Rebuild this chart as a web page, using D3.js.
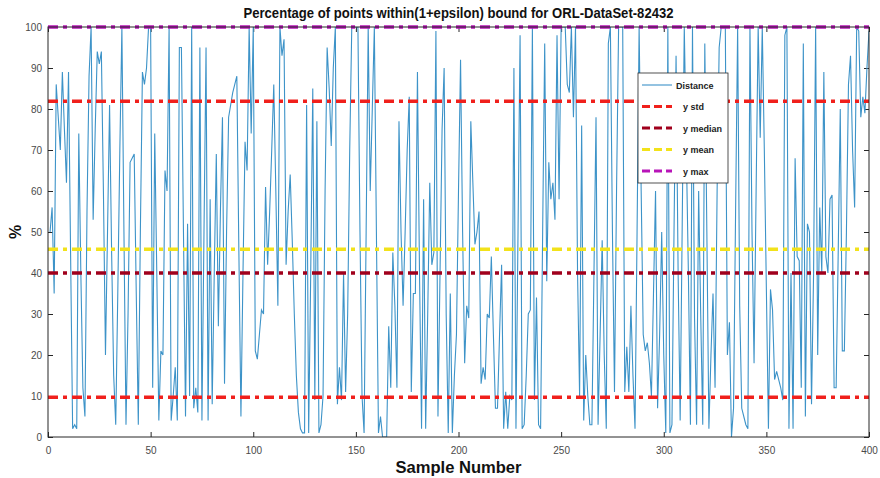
<!DOCTYPE html>
<html>
<head>
<meta charset="utf-8">
<script src="https://cdn.jsdelivr.net/npm/d3@7/dist/d3.min.js"></script>
<style>
  body { margin: 0; background: #ffffff; }
  svg { display: block; font-family: "Liberation Sans", Arial, sans-serif; }
</style>
</head>
<body>
<div id="chart"></div>
<script>
// Distance series, samples 1..400
const distance = [
  50,56,35,86,78,70,89,75,62,89, 45,2,3,2,74,40,12,5,55,88,
  100,53,75,94,91,94,60,20,50,81, 45,15,3,35,70,100,50,3,30,67,
  68,69,35,3,50,89,86,90,100,100, 12,74,40,4,21,20,65,60,100,4,
  10,17,4,95,95,50,5,52,10,100, 7,12,6,95,4,50,95,4,58,8,
  40,69,27,55,78,13,50,78,81,84, 86,88,45,5,40,72,65,100,74,100,
  21,19,25,31,30,61,42,55,70,86, 60,32,100,93,97,42,55,64,48,30,
  15,6,2,1,1,81,1,40,85,9, 77,1,3,10,60,95,85,71,90,100,
  8,17,9,40,11,30,70,100,100,100, 100,50,10,1,50,100,60,80,100,50,
  1,5,0,0,0,27,12,45,32,12, 77,50,32,50,70,83,11,35,35,89,
  40,2,58,2,30,62,42,45,99,5, 40,75,90,30,1,35,1,15,25,60,
  92,50,18,32,29,77,62,47,50,55, 13,17,14,30,29,44,25,7,7,25,
  42,2,11,2,10,9,90,2,50,98, 2,3,15,30,31,100,9,34,3,2,
  50,96,38,67,58,62,53,98,58,100, 100,100,86,84,100,78,100,40,10,76,
  4,20,10,3,3,40,78,3,25,48, 20,2,96,100,50,11,60,100,100,100,
  11,22,11,32,15,2,50,100,60,25, 21,23,18,10,35,60,7,25,50,20,
  1,100,1,3,50,93,40,4,52,100, 70,40,3,100,29,3,60,30,3,96,
  50,2,20,35,12,60,95,100,100,100, 20,28,0,7,55,100,32,7,5,3,
  2,100,50,18,60,100,73,100,70,36, 2,36,31,14,16,14,12,9,98,100,
  2,40,2,68,44,43,12,96,5,52, 50,8,40,100,20,56,40,89,44,40,
  58,59,12,12,45,80,21,21,50,86, 93,70,56,100,99,78,83,79,90,99
];

// reference lines
const refNames  = ["y std", "y std", "y median", "y mean", "y max"];
const refValues = [81.9, 9.7, 40, 45.8, 100];
const refColors = ["#f0201c", "#f0201c", "#a0001c", "#f2e21a", "#b814b8"];

const xTicks = [0, 50, 100, 150, 200, 250, 300, 350, 400];
const yTicks = [0, 10, 20, 30, 40, 50, 60, 70, 80, 90, 100];

const legendLabels = ["Distance", "y std", "y median", "y mean", "y max"];
const legendColors = ["#3d93c8", "#f0201c", "#a0001c", "#f2e21a", "#b814b8"];

const width = 880, height = 478;
const margin = { top: 27, right: 11, bottom: 41, left: 48 };
const innerWidth = width - margin.left - margin.right;
const innerHeight = height - margin.top - margin.bottom;

const svg = d3.select("#chart").append("svg").attr("width", width).attr("height", height);
const chart = svg.append("g").attr("transform", `translate(${margin.left},${margin.top})`);

const x = d3.scaleLinear().domain([0, 400]).range([0, innerWidth]);
const y = d3.scaleLinear().domain([0, 100]).range([innerHeight, 0]);

svg.append("defs").append("clipPath").attr("id", "plot-clip")
  .append("rect").attr("width", innerWidth).attr("height", innerHeight);

// axes, MATLAB style: ticks inward on all four sides
const axisColor = "#262626";
function styleAxis(g, hideText) {
  g.select(".domain").remove();
  g.selectAll("line").attr("stroke", axisColor);
  g.selectAll("text").style("font-size", "10px").style("fill", "#4a4a4a");
  if (hideText) g.selectAll("text").remove();
}
chart.append("g").attr("transform", `translate(0,${innerHeight})`)
  .call(d3.axisBottom(x).tickValues(xTicks).tickSize(-5).tickPadding(10).tickFormat(d3.format("d")))
  .call(g => styleAxis(g, false));
chart.append("g")
  .call(d3.axisTop(x).tickValues(xTicks).tickSize(-5))
  .call(g => styleAxis(g, true));
chart.append("g")
  .call(d3.axisLeft(y).tickValues(yTicks).tickSize(-5).tickPadding(6))
  .call(g => styleAxis(g, false));
chart.append("g").attr("transform", `translate(${innerWidth},0)`)
  .call(d3.axisRight(y).tickValues(yTicks).tickSize(-5))
  .call(g => styleAxis(g, true));

// distance line
const line = d3.line().x((d, i) => x(i + 1)).y(d => y(d));
chart.append("path").datum(distance)
  .attr("clip-path", "url(#plot-clip)")
  .attr("fill", "none").attr("stroke", "#3d93c8").attr("stroke-width", 1.1)
  .attr("d", line);

// reference lines
chart.selectAll(".ref").data(refValues).enter().append("line")
  .attr("x1", x(0)).attr("x2", x(400))
  .attr("y1", d => y(d)).attr("y2", d => y(d))
  .attr("stroke", (d, i) => refColors[i]).attr("stroke-width", 3.5)
  .attr("stroke-dasharray", "10,5,4,5");

// box
chart.append("rect").attr("width", innerWidth).attr("height", innerHeight)
  .attr("fill", "none").attr("stroke", axisColor).attr("stroke-width", 1);

// legend
const legend = svg.append("g").attr("transform", "translate(638,73)");
legend.append("rect").attr("width", 90).attr("height", 110)
  .attr("fill", "#ffffff").attr("stroke", axisColor).attr("stroke-width", 0.8);
legendLabels.forEach((label, i) => {
  const row = legend.append("g").attr("transform", `translate(0,${12 + i * 21.5})`);
  row.append("line").attr("x1", 4).attr("x2", 34).attr("y1", 0).attr("y2", 0)
    .attr("stroke", legendColors[i])
    .attr("stroke-width", i === 0 ? 1.1 : 3)
    .attr("stroke-dasharray", i === 0 ? null : "8,4");
  row.append("text").attr("x", i === 0 ? 38 : 45).attr("y", 3.5)
    .style("font-size", "9px").style("font-weight", "bold").style("fill", "#222")
    .text(label);
});

// titles
svg.append("text").attr("x", margin.left + innerWidth / 2).attr("y", 18)
  .attr("text-anchor", "middle").attr("textLength", 430).attr("lengthAdjust", "spacingAndGlyphs")
  .style("font-size", "15px").style("font-weight", "bold").style("fill", "#111")
  .text("Percentage of points within(1+epsilon) bound for ORL-DataSet-82432");

svg.append("text").attr("x", margin.left + innerWidth / 2).attr("y", 473)
  .attr("text-anchor", "middle").attr("textLength", 126).attr("lengthAdjust", "spacingAndGlyphs")
  .style("font-size", "17px").style("font-weight", "bold").style("fill", "#111")
  .text("Sample Number");

svg.append("text").attr("transform", `translate(21,${margin.top + innerHeight / 2}) rotate(-90)`)
  .attr("text-anchor", "middle")
  .style("font-size", "16px").style("font-weight", "bold").style("fill", "#111")
  .text("%");
</script>
</body>
</html>
